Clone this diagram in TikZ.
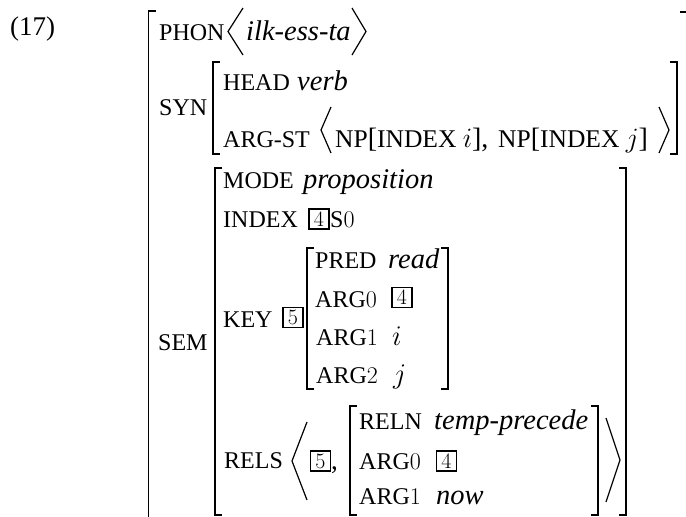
\documentclass[tikz,border=0pt]{standalone}
\usepackage{fix-cm}
\usepackage[no-math]{fontspec}
\setmainfont{Liberation Serif}[ItalicFont={Liberation Serif Italic}]
\newcommand\bigtxt{\fontsize{28}{30}\selectfont}
\tikzset{
 lab/.style={font=\fontsize{24}{26}\selectfont, inner sep=0pt, anchor=base west},
 labw/.style={font=\fontsize{25.5}{26}\selectfont, inner sep=0pt, anchor=base west},
 itx/.style={font=\fontsize{28.5}{30}\selectfont\itshape, inner sep=0pt, anchor=base west},
 txt/.style={font=\fontsize{27}{30}\selectfont, inner sep=0pt, anchor=base west},
 mth/.style={font=\fontsize{28.5}{30}\selectfont, inner sep=0pt, anchor=base west},
 tagbox/.style={draw, line width=1.9pt, minimum width=20pt, minimum height=20pt, inner sep=0pt, anchor=center, font=\fontsize{22}{22}\selectfont},
 brk/.style={line width=1.7pt},
 ang/.style={line width=1.2pt, line join=miter}
}
\begin{document}
\begin{tikzpicture}[x=1pt,y=-1pt]
\useasboundingbox (0,0) rectangle (686,517);
\clip (0,0) rectangle (686,517);
% example number
\node[txt] (num) at (10,35) {(17)};
% outer matrix
\draw[brk] (155.5,11) -- (148.5,11) -- (148.5,530);
\draw[brk] (680,12) -- (687.5,12) -- (687.5,530);
% PHON
\node[lab] (phon) at (159,40) {PHON};
\draw[ang] (243,8) -- (228,31.5) -- (243,55);
\node[itx] (phonv) at (246,40) {ilk-ess-ta};
\draw[ang] (352,8) -- (366,31.5) -- (352,55);
% SYN
\node[lab] (syn) at (159,115) {SYN};
\draw[brk] (220,62) -- (213,62) -- (213,154) -- (220,154);
\draw[brk] (670,62) -- (677,62) -- (677,154) -- (670,154);
\node[lab] (head) at (223,90) {HEAD};
\node[itx] (headv) at (297,90) {verb};
\node[lab] (argst) at (223,147) {ARG-ST};
\draw[ang] (331,107) -- (321,130) -- (331,153);
\node[labw] (np1) at (335,147) {NP{\bigtxt[}INDEX {\bigtxt$i$],}};
\node[labw] (np2) at (498,147) {NP{\bigtxt[}INDEX {\bigtxt$j$]}};
\draw[ang] (659,107) -- (669,130) -- (659,153);
% SEM
\node[lab] (sem) at (158,350) {SEM};
\draw[brk] (222,168) -- (215,168) -- (215,515) -- (222,515);
\draw[brk] (619,168) -- (626,168) -- (626,515) -- (619,515);
\node[lab] (mode) at (223,188) {MODE};
\node[itx] (modev) at (303,188) {proposition};
\node[lab] (index) at (223,227) {INDEX};
\node[tagbox] (t4a) at (319,219) {$4$};
\node[lab] (s0) at (330,227) {S$0$};
% KEY
\node[lab] (key) at (223,327) {KEY};
\node[tagbox] (t5a) at (293,317.5) {$5$};
\draw[brk] (314,248) -- (307,248) -- (307,389) -- (314,389);
\draw[brk] (441,248) -- (448,248) -- (448,389) -- (441,389);
\node[lab] (pred) at (315,268) {PRED};
\node[itx] (predv) at (388,268) {read};
\node[lab] (karg0) at (315,307) {ARG$0$};
\node[tagbox] (t4b) at (402,297.5) {$4$};
\node[lab] (karg1) at (316,345) {ARG$1$};
\node[mth] (karg1v) at (392,345) {$i$};
\node[lab] (karg2) at (316,383) {ARG$2$};
\node[mth] (karg2v) at (393,383) {$j$};
% RELS
\node[lab] (rels) at (224,468) {RELS};
\draw[ang] (307,422) -- (292,461) -- (307,500);
\node[tagbox] (t5b) at (320.5,461) {$5$};
\node[txt] (comma) at (331,469) {,};
\draw[brk] (357,406) -- (350,406) -- (350,515) -- (357,515);
\draw[brk] (591,406) -- (598,406) -- (598,515) -- (591,515);
\node[lab] (reln) at (359,429) {RELN};
\node[itx] (relnv) at (434,429) {temp-precede};
\node[lab] (rarg0) at (359,469) {ARG$0$};
\node[tagbox] (t4c) at (446.5,461) {$4$};
\node[lab] (rarg1) at (359,504) {ARG$1$};
\node[itx] (rarg1v) at (436,504) {now};
\draw[ang] (606,418) -- (620,460) -- (606,502);
\end{tikzpicture}
\end{document}
